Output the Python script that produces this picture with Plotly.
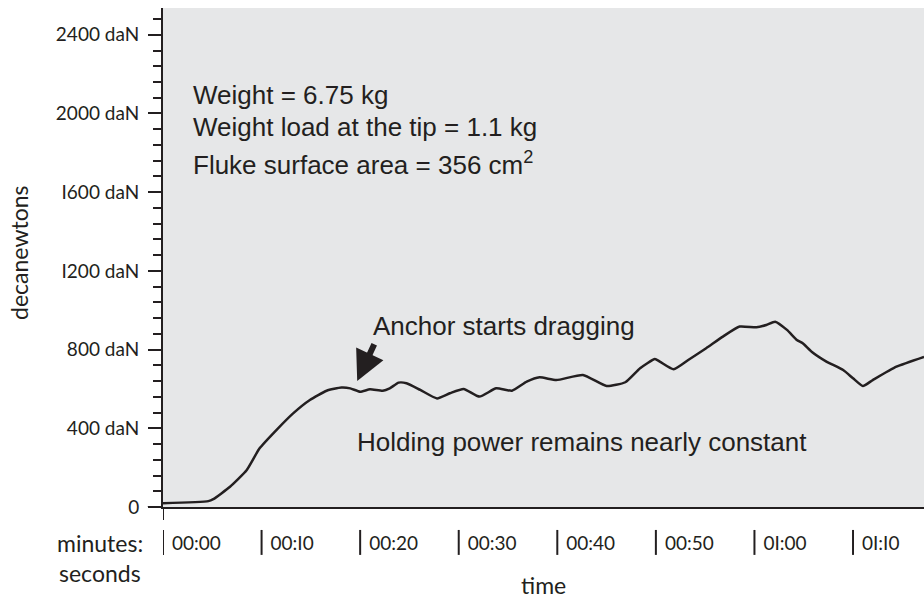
import plotly.graph_objects as go

# ---- data ----
time_s = [0, 4.6, 5.1, 6.8, 8.5, 9.8, 11.5, 13.2, 14.9, 16.6, 18.1, 19.0, 20.0, 21.0, 22.3,
          23.0, 23.9, 24.7, 26.1, 27.8, 29.1, 30.5, 32.1, 33.8, 35.4, 36.9, 38.2, 39.9,
          42.6, 45.0, 46.9, 48.4, 49.9, 50.4, 51.8, 53.4, 55.1, 56.8, 58.5, 60.2, 61.2,
          62.1, 63.3, 64.3, 64.9, 65.8, 67.3, 69.0, 70.0, 71.0, 72.0, 74.4, 77.2]
force_daN = [19, 30, 40, 103, 188, 298, 391, 476, 544, 591, 607, 603, 586, 598, 591,
             603, 632, 629, 595, 552, 578, 600, 561, 603, 591, 637, 659, 645,
             671, 615, 634, 705, 752, 739, 700, 751, 807, 866, 917, 913, 925,
             942, 900, 849, 832, 789, 739, 696, 654, 615, 645, 713, 763]

y_tick_vals = [0, 400, 800, 1200, 1600, 2000, 2400]
y_tick_text = ["0", "400 daN", "800 daN", "I200 daN", "I600 daN", "2000 daN", "2400 daN"]
x_tick_vals = [0, 10, 20, 30, 40, 50, 60, 70]
x_tick_text = ["00:00", "00:I0", "00:20", "00:30", "00:40", "00:50", "0I:00", "0I:I0"]

info_lines = ["Weight = 6.75 kg", "Weight load at the tip = 1.1 kg",
              "Fluke surface area = 356 cm<sup>2</sup>"]
info_y = [2095, 1931, 1746]

INK = "#231f20"
AXFONT = "Lato"
TXFONT = "Liberation Sans"

fig = go.Figure()
fig.add_trace(go.Scatter(x=time_s, y=force_daN, mode="lines",
                         line=dict(color=INK, width=2.5, shape="spline", smoothing=0.5),
                         hoverinfo="skip", showlegend=False))

fig.update_layout(
    width=924, height=602,
    margin=dict(l=163, r=0, t=8, b=95),
    paper_bgcolor="white", plot_bgcolor="#e6e7e8",
    showlegend=False,
    xaxis=dict(range=[0, 77.2], showgrid=False, zeroline=False, automargin=False,
               showline=True, linecolor=INK, linewidth=2,
               tickvals=x_tick_vals, ticktext=x_tick_text, ticks="",
               ticklabelposition="outside right", ticklabelstandoff=18, ticklabelshift=8,
               tickfont=dict(family=AXFONT, size=19, color=INK)),
    yaxis=dict(range=[0, 2536], showgrid=False, zeroline=False, automargin=False,
               showline=True, linecolor=INK, linewidth=2,
               tickvals=y_tick_vals, ticktext=y_tick_text,
               ticks="outside", ticklen=13, tickwidth=2, tickcolor=INK,
               ticklabelstandoff=5,
               minor=dict(dtick=80, ticks="outside", ticklen=8, tickwidth=2, tickcolor=INK),
               tickfont=dict(family=AXFONT, size=19, color=INK)),
)

# x tick bars (separate from the axis line)
for t in x_tick_vals:
    fig.add_shape(type="line", xref="x", yref="paper", x0=t, x1=t, y0=-0.046, y1=-0.096,
                  line=dict(color=INK, width=2))
# y axis extension below the x axis
fig.add_shape(type="line", xref="x", yref="paper", x0=0, x1=0, y0=0, y1=-0.026,
              line=dict(color=INK, width=2))
# x axis extension left
fig.add_shape(type="line", xref="paper", yref="y", x0=-0.02, x1=0, y0=0, y1=0,
              line=dict(color=INK, width=2))

ann = []
ann.append(dict(text="decanewtons", xref="paper", yref="paper", x=-0.19, y=0.51,
                xanchor="center", yanchor="middle",
                textangle=-90, showarrow=False, font=dict(family=AXFONT, size=23, color=INK)))
ann.append(dict(text="minutes:", xref="paper", yref="paper", x=-0.023, y=-0.072,
                xanchor="right", yanchor="middle", showarrow=False,
                font=dict(family=AXFONT, size=23, color=INK)))
ann.append(dict(text="seconds", xref="paper", yref="paper", x=-0.026, y=-0.132,
                xanchor="right", yanchor="middle", showarrow=False,
                font=dict(family=AXFONT, size=23, color=INK)))
ann.append(dict(text="time", xref="paper", yref="paper", x=0.50, y=-0.188,
                xanchor="center", yanchor="bottom", showarrow=False,
                font=dict(family=AXFONT, size=23, color=INK)))

for txt, yv in zip(info_lines, info_y):
    ann.append(dict(text=txt, x=2.84, y=yv, xanchor="left", yanchor="middle",
                    showarrow=False, font=dict(family=TXFONT, size=26, color=INK)))

ann.append(dict(text="Anchor starts dragging", x=21.1, y=920, xanchor="left", yanchor="middle",
                showarrow=False, font=dict(family=TXFONT, size=26, color=INK)))
ann.append(dict(text="Holding power remains nearly constant", x=19.48, y=330,
                xanchor="left", yanchor="middle",
                showarrow=False, font=dict(family=TXFONT, size=26, color=INK)))
# arrow
ann.append(dict(text="", x=19.7, y=640, ax=21.5, ay=835, axref="x", ayref="y",
                showarrow=True, arrowhead=2, arrowsize=1, arrowwidth=6, arrowcolor=INK))

fig.update_layout(annotations=ann)
fig.write_html("out.html", config={"displayModeBar": False},
               post_script="document.body.style.margin='0';document.body.style.overflow='hidden';")
